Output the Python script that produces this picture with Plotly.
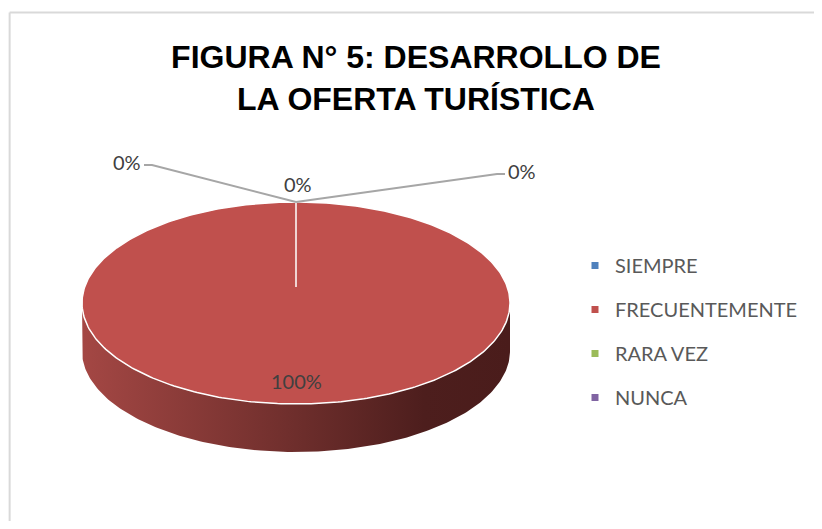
import numpy as np
import plotly.graph_objs as go

OFF = 8  # page margin of the browser
WIDTH = 822 - OFF
HEIGHT = 529 - 2 * OFF

categories = ["SIEMPRE", "FRECUENTEMENTE", "RARA VEZ", "NUNCA"]
values = [0, 100, 0, 0]
colors = ["#4F81BD", "#C0504D", "#9BBB59", "#8064A2"]
title_text = "FIGURA N° 5: DESARROLLO DE<br>LA OFERTA TURÍSTICA"

# pie geometry (pixel units of the hidden axes)
CX, CY = 296, 303
RX, RY = 214, 101
DEPTH = 48
LABEL_FONT = dict(family="Lato, Noto Sans, sans-serif", size=20, color="#404040")
# where the zero labels get pushed so they do not overlap
zero_offsets = [(-144, -37, "right"), (2, -18, "center"), (201, -28, "left")]


def ellipse_pt(theta, dy=0.0, r=1.0):
    t = np.radians(theta)
    return CX + r * RX * np.sin(t), CY - r * RY * np.cos(t) + dy


total = float(sum(values))
starts = np.cumsum([0] + values[:-1]) / total * 360
ends = np.cumsum(values) / total * 360

fig = go.Figure()

# side wall of the 3d pie (front half only)
for i, v in enumerate(values):
    if v == 0:
        continue
    a0, a1 = max(starts[i], 90), min(ends[i], 270)
    if a1 <= a0:
        continue
    th = np.linspace(a0, a1, 200)
    xt, yt = ellipse_pt(th)
    xb, yb = ellipse_pt(th[::-1], dy=DEPTH)
    fig.add_trace(go.Scatter(
        x=np.concatenate([xt, xb, xt[:1]]), y=np.concatenate([yt, yb, yt[:1]]),
        mode="lines", line=dict(width=0), fill="toself",
        fillgradient=dict(type="horizontal",
                          colorscale=[[0, "#A44744"], [0.5, "#6E2E2C"], [0.8, "#4D1E1D"], [1, "#4A1C1B"]]),
        hoverinfo="skip", showlegend=False))

# top faces
for i, v in enumerate(values):
    if v == 0:
        continue
    th = np.linspace(starts[i], ends[i], 400)
    x, y = ellipse_pt(th)
    fig.add_trace(go.Scatter(
        x=np.concatenate([[CX], x, [CX]]), y=np.concatenate([[CY - 16], y, [CY - 16]]),
        mode="lines", line=dict(color="white", width=1.5), fill="toself",
        fillcolor=colors[i], hoverinfo="skip", showlegend=False))

# data labels
zi = 0
for i, v in enumerate(values):
    pct = "%d%%" % round(v / total * 100)
    mid = (starts[i] + ends[i]) / 2
    if v > 0:
        lx, ly = ellipse_pt(mid, r=0.77)
        fig.add_annotation(x=lx, y=ly, text=pct, showarrow=False, font=LABEL_FONT)
        continue
    ax, ay = ellipse_pt(mid)
    dx, dy, side = zero_offsets[zi]
    zi += 1
    if side == "center":
        fig.add_annotation(x=ax + dx, y=ay + dy, text=pct, showarrow=False, font=LABEL_FONT)
        continue
    sgn = 1 if side == "left" else -1
    fig.add_trace(go.Scatter(
        x=[ax, ax + dx, ax + dx + sgn * 8], y=[ay, ay + dy, ay + dy],
        mode="lines", line=dict(color="#A6A6A6", width=2),
        hoverinfo="skip", showlegend=False))
    fig.add_annotation(x=ax + dx + sgn * 9, y=ay + dy - 3, text=pct, showarrow=False,
                       xanchor=side, font=LABEL_FONT)

# legend entries
for name, c in zip(categories, colors):
    fig.add_trace(go.Scatter(x=[None], y=[None], mode="markers", name=name, legendgroup=name,
                             marker=dict(symbol="square", size=7, color=c)))

# chart frame (only top and left edges are in view)
fig.add_shape(type="line", xref="paper", yref="paper", x0=0.002, x1=1, y0=1 - 4.5 / HEIGHT, y1=1 - 4.5 / HEIGHT,
              line=dict(color="#D9D9D9", width=2))
fig.add_shape(type="line", xref="paper", yref="paper", x0=0.002, x1=0.002, y0=0, y1=1 - 4.5 / HEIGHT,
              line=dict(color="#D9D9D9", width=2))

fig.update_layout(
    width=WIDTH,
    height=HEIGHT,
    margin=dict(l=0, r=0, t=0, b=0),
    plot_bgcolor="white",
    paper_bgcolor="white",
    xaxis=dict(range=[OFF, WIDTH + OFF], visible=False, fixedrange=True),
    yaxis=dict(range=[HEIGHT + OFF, OFF], visible=False, fixedrange=True),
    title=dict(text="<b>" + title_text + "</b>", x=(416 - OFF) / WIDTH, xanchor="center",
               y=1 - (68 - OFF) / HEIGHT, yanchor="top",
               font=dict(family="Liberation Sans, Arial", size=32, color="black")),
    legend=dict(x=(575 - OFF) / WIDTH, y=1 - (246 - OFF) / HEIGHT, xanchor="left", yanchor="top",
                tracegroupgap=15,
                font=dict(family="Lato, Noto Sans, sans-serif", size=20, color="#595959"),
                itemwidth=30),
    showlegend=True,
)

fig.write_html("out.html")
